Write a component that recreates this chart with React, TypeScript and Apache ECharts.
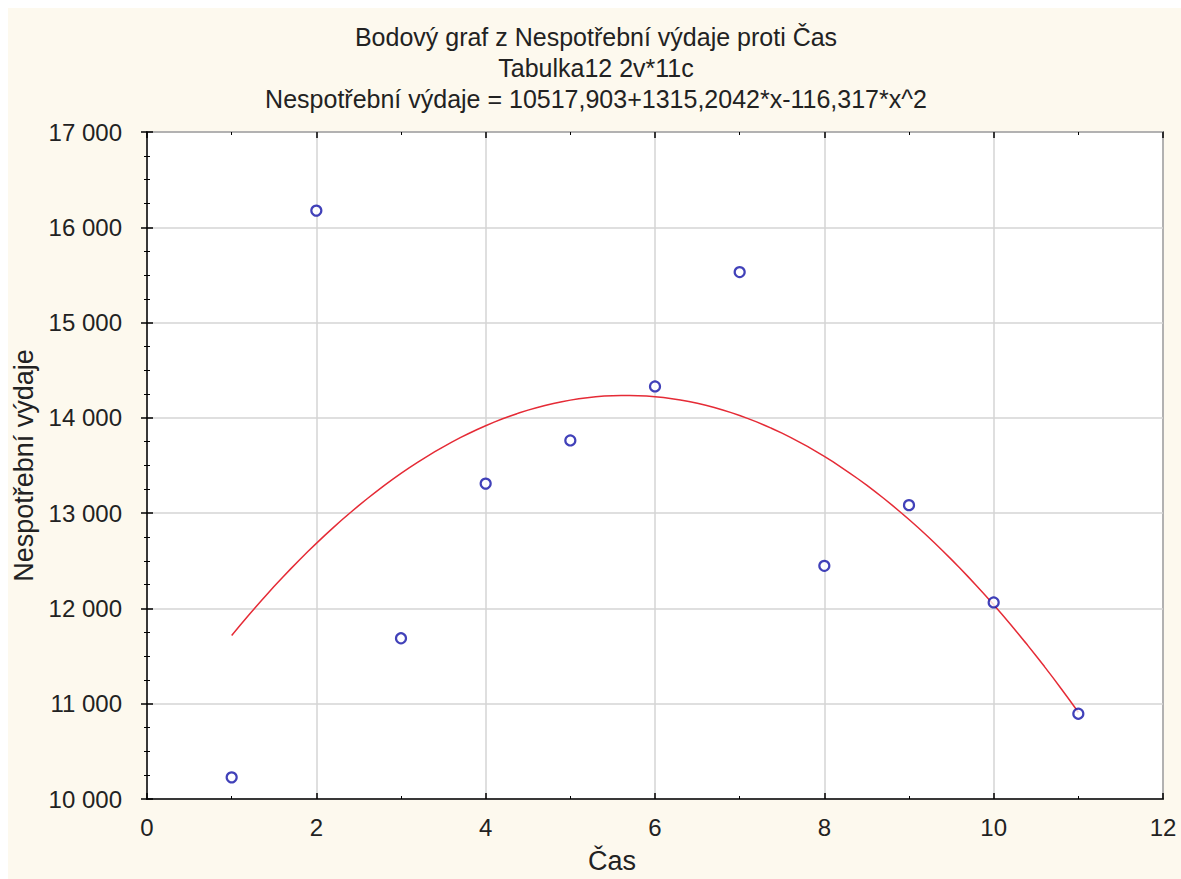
import React, { useEffect, useRef } from "react";
import * as echarts from "echarts";

const titleLines = [
  "Bodový graf z Nespotřební výdaje proti Čas",
  "Tabulka12 2v*11c",
  "Nespotřební výdaje = 10517,903+1315,2042*x-116,317*x^2",
];
const xName = "Čas";
const yName = "Nespotřební výdaje";
const casValues = [1, 2, 3, 4, 5, 6, 7, 8, 9, 10, 11];
const vydajeValues = [10227, 16175, 11687, 13310, 13763, 14330, 15530, 12447, 13084, 12063, 10895];
// regression coefficients from the chart's subtitle (a, b, c for a + b*x + c*x^2)
const fitCoefficients = [10517.903, 1315.2042, -116.317];
const fitRange = [1, 11];

const fmt = (v: number) => {
  const s = String(Math.round(v));
  return s.replace(/\B(?=(\d{3})+(?!\d))/g, " ");
};

export default function App() {
  const ref = useRef<HTMLDivElement>(null);
  useEffect(() => {
    if (!ref.current) return;
    const chart = echarts.init(ref.current, undefined, { renderer: "svg" });
    const [a, b, c] = fitCoefficients;
    const fit: number[][] = [];
    const steps = 100;
    for (let i = 0; i <= steps; i++) {
      const x = fitRange[0] + ((fitRange[1] - fitRange[0]) * i) / steps;
      fit.push([x, a + b * x + c * x * x]);
    }
    const font = "Liberation Sans, Arial, sans-serif";
    const tickCommon = { inside: true, length: 6, lineStyle: { color: "#000", width: 1.5 } };
    const minor = { show: true, length: 3, lineStyle: { color: "#000", width: 1 } };
    chart.setOption({
      animation: false,
      backgroundColor: "#FDF9EE",
      textStyle: { fontFamily: font },
      title: titleLines.map((t, i) => ({
        text: t,
        left: 583,
        top: 11 + i * 31,
        textAlign: "center",
        textStyle: { fontSize: 25, fontWeight: "normal", color: "#222", fontFamily: font },
      })),
      grid: {
        left: 139,
        right: 18,
        top: 124,
        bottom: 80,
        containLabel: false,
        outerBoundsMode: "none",
        show: true,
        backgroundColor: "#fff",
        borderColor: "#111",
        borderWidth: 1.5,
      },
      xAxis: [
        {
          type: "value",
          min: 0,
          max: 12,
          interval: 2,
          name: xName,
          nameLocation: "middle",
          nameGap: 48,
          nameTextStyle: { fontSize: 27, color: "#222", padding: [0, 86, 0, 0] },
          axisLine: { lineStyle: { color: "#111", width: 1.5 } },
          axisTick: tickCommon,
          minorTick: { ...minor, splitNumber: 2 },
          axisLabel: { fontSize: 24, color: "#222", margin: 16 },
          splitLine: { show: true, lineStyle: { color: "#D4D4D4", width: 1.5 } },
        },
        {
          type: "value",
          position: "top",
          min: 0,
          max: 12,
          interval: 2,
          axisLine: { show: false },
          axisTick: tickCommon,
          minorTick: { ...minor, splitNumber: 2 },
          axisLabel: { show: false },
          splitLine: { show: false },
        },
      ],
      yAxis: [
        {
          type: "value",
          min: 10000,
          max: 17000,
          interval: 1000,
          name: yName,
          nameLocation: "middle",
          nameGap: 103,
          nameRotate: 90,
          nameTextStyle: { fontSize: 27, color: "#222" },
          axisLine: { show: true, lineStyle: { color: "#111", width: 1.5 } },
          axisTick: { show: true, ...tickCommon },
          minorTick: { ...minor, splitNumber: 4 },
          axisLabel: { fontSize: 24, color: "#222", margin: 25, formatter: (v: number) => fmt(v) },
          splitLine: { show: true, lineStyle: { color: "#D4D4D4", width: 1.5 } },
        },
        {
          type: "value",
          position: "right",
          min: 10000,
          max: 17000,
          interval: 1000,
          axisLine: { show: false },
          axisTick: { show: true, ...tickCommon },
          minorTick: { ...minor, splitNumber: 4 },
          axisLabel: { show: false },
          splitLine: { show: false },
        },
      ],
      series: [
        {
          type: "line",
          data: fit,
          showSymbol: false,
          symbol: "none",
          lineStyle: { color: "#E52B36", width: 1.5 },
          z: 2,
        },
        {
          type: "scatter",
          data: casValues.map((x, i) => [x, vydajeValues[i]]),
          symbol: "circle",
          symbolSize: 10,
          itemStyle: { color: "#fff", borderColor: "#1212A8", borderWidth: 2.2 },
          z: 3,
        },
      ],
    });
    return () => chart.dispose();
  }, []);
  return (
    <div
      ref={ref}
      style={{ position: "fixed", left: 8, top: 8, width: 1173, height: 871 }}
    />
  );
}
